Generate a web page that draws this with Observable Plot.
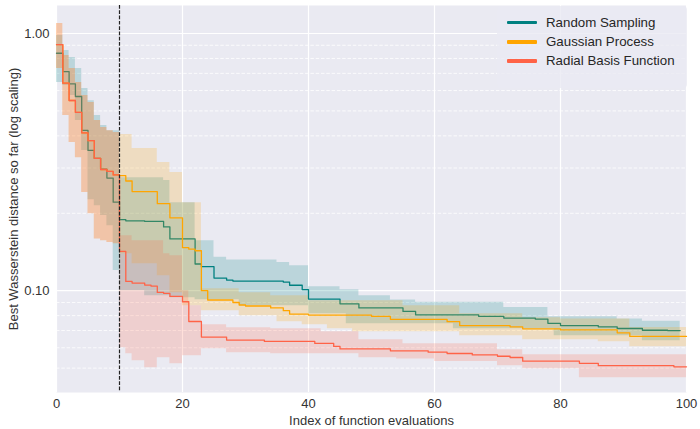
<!DOCTYPE html>
<html>
<head>
<meta charset="utf-8">
<script src="https://cdn.jsdelivr.net/npm/d3@7"></script>
<script src="https://cdn.jsdelivr.net/npm/@observablehq/plot@0.6"></script>
<style>
  html, body { margin: 0; padding: 0; background: #fff; }
  #wrap { position: relative; width: 700px; height: 429px; font-family: "Liberation Sans", Arial, sans-serif; }
  #legend { position: absolute; left: 497px; top: 6px; width: 190px; height: 82px; background: rgba(234,234,242,0.8); border-radius: 4px; }
  .lg-row { position: absolute; left: 0; height: 18px; width: 190px; }
  .lg-sw { position: absolute; left: 10px; top: 7px; width: 30px; height: 3.5px; border-radius: 1px; }
  .lg-tx { position: absolute; left: 49px; top: 0; line-height: 18px; font-size: 13.3px; color: #262626; white-space: nowrap; }
</style>
</head>
<body>
<div id="wrap"><div id="legend"></div></div>
<script>
// ---------- data (step breakpoints: [evaluation index, value]) ----------
const seriesNames = ["Random Sampling", "Gaussian Process", "Radial Basis Function"];
const seriesColors = ["#008080", "#FFA500", "#FF6347"];
const seriesLastIndex = [99, 100, 100];

const xTicks = [0, 20, 40, 60, 80, 100];
const yTicks = [0.1, 1];
const yMinorTicks = [0.05, 0.06, 0.07, 0.08, 0.09, 0.2, 0.3, 0.4, 0.5, 0.6, 0.7, 0.8, 0.9];
const initialDesignEnd = [10];

const rsMedian = [[0,0.838],[1,0.711],[2,0.637],[3,0.569],[4,0.42],[5,0.351],[6,0.327],[7,0.297],[8,0.274],[9,0.221],[10,0.189],[11,0.187],[14,0.186],[17,0.177],[18,0.159],[22,0.127],[23,0.124],[25,0.112],[27,0.110],[28,0.109],[36,0.108],[37,0.105],[39,0.101],[40,0.0928],[45,0.0889],[48,0.0857],[55,0.0831],[57,0.0806],[67,0.0795],[71,0.0783],[76,0.0776],[78,0.0747],[80,0.0732],[86,0.0724],[89,0.0713],[93,0.0702],[97,0.0700]];
const rsUpper = [[0,0.982],[1,0.859],[2,0.807],[3,0.731],[4,0.611],[5,0.548],[6,0.480],[7,0.439],[8,0.419],[10,0.275],[17,0.268],[18,0.220],[22,0.1565],[25,0.1348],[27,0.1317],[35,0.1288],[37,0.1251],[40,0.1036],[45,0.1009],[48,0.0956],[53,0.0920],[57,0.0901],[71,0.0861],[78,0.0792],[89,0.0776],[93,0.0760]];
const rsLower = [[0,0.645],[1,0.628],[2,0.574],[3,0.459],[4,0.351],[5,0.226],[6,0.214],[7,0.196],[8,0.179],[9,0.1197],[10,0.100],[14,0.0956],[18,0.0939],[22,0.0923],[29,0.0874],[40,0.0813],[46,0.0744],[63,0.0711],[79,0.0668],[93,0.0639]];

const gpMedian = [[0,0.906],[1,0.641],[2,0.549],[3,0.494],[4,0.411],[5,0.383],[6,0.327],[7,0.296],[8,0.291],[9,0.282],[10,0.280],[11,0.267],[12,0.243],[16,0.218],[18,0.192],[20,0.147],[21,0.145],[22,0.143],[23,0.100],[24,0.092],[28,0.090],[29,0.088],[30,0.0872],[34,0.0857],[36,0.0836],[37,0.0811],[40,0.0804],[50,0.0795],[53,0.0774],[62,0.0758],[64,0.0732],[72,0.0724],[74,0.0711],[80,0.0704],[89,0.0686],[91,0.0664]];
const gpUpper = [[0,1.094],[1,0.821],[2,0.731],[3,0.645],[4,0.574],[5,0.539],[6,0.459],[7,0.431],[8,0.419],[9,0.412],[10,0.405],[12,0.357],[16,0.315],[18,0.288],[20,0.220],[23,0.1018],[29,0.0982],[34,0.0956],[40,0.0914],[55,0.0874],[64,0.0813],[74,0.0785],[80,0.0776],[91,0.0720]];
const gpLower = [[0,0.731],[1,0.480],[2,0.377],[3,0.329],[4,0.241],[5,0.199],[6,0.159],[7,0.1565],[8,0.1538],[9,0.1524],[10,0.1393],[12,0.1274],[16,0.1144],[18,0.0982],[20,0.0874],[23,0.0836],[29,0.0799],[35,0.0757],[39,0.0737],[43,0.0711],[47,0.0692],[64,0.0668],[74,0.0645],[86,0.0633],[91,0.0605]];

const rbfMedian = [[0,0.906],[1,0.641],[2,0.549],[3,0.494],[4,0.411],[5,0.383],[6,0.327],[7,0.296],[8,0.291],[9,0.282],[10,0.1422],[11,0.1087],[12,0.1071],[14,0.1052],[15,0.1042],[16,0.0985],[17,0.0977],[18,0.0950],[20,0.0906],[21,0.0759],[23,0.0660],[27,0.0643],[33,0.0635],[41,0.0624],[44,0.0607],[45,0.0594],[53,0.0584],[59,0.0577],[62,0.0570],[66,0.0563],[70,0.0556],[72,0.0550],[74,0.0532],[83,0.0522],[86,0.0511],[98,0.0506]];
const rbfUpper = [[0,1.094],[1,0.821],[2,0.731],[3,0.645],[4,0.574],[5,0.539],[6,0.459],[7,0.431],[8,0.419],[9,0.412],[10,0.1637],[12,0.1565],[17,0.1393],[18,0.1368],[20,0.100],[21,0.0874],[23,0.0737],[27,0.0718],[34,0.0711],[42,0.0692],[48,0.0645],[55,0.0622],[70,0.0590],[74,0.0564]];
const rbfLower = [[0,0.731],[1,0.480],[2,0.377],[3,0.329],[4,0.241],[5,0.199],[6,0.159],[7,0.1565],[8,0.1538],[9,0.1524],[10,0.0600],[11,0.0569],[12,0.0534],[14,0.0502],[16,0.0549],[18,0.0520],[20,0.0559],[23,0.0595],[27,0.0574],[34,0.0569],[48,0.0549],[54,0.0542],[60,0.0531],[70,0.0511],[74,0.0497],[83,0.0459]];

// ---------- build tables from the step breakpoints ----------
function expand(pairs, n) {
  const out = []; let j = 0;
  for (let x = 0; x <= n; x++) {
    while (j + 1 < pairs.length && pairs[j + 1][0] <= x) j++;
    out.push(pairs[j][1]);
  }
  return out;
}
const raw = [[rsMedian, rsLower, rsUpper], [gpMedian, gpLower, gpUpper], [rbfMedian, rbfLower, rbfUpper]];
const tables = raw.map(([m, lo, hi], i) => {
  const n = seriesLastIndex[i];
  const M = expand(m, n), L = expand(lo, n), H = expand(hi, n);
  return M.map((v, x) => ({x, y: v, lo: L[x], hi: H[x], name: seriesNames[i]}));
});

const txt = "#333";
const seriesMarks = tables.flatMap((rows, i) => [
  Plot.areaY(rows, {x: "x", y1: "lo", y2: "hi", fill: seriesColors[i], fillOpacity: 0.2, curve: "step-after"}),
  Plot.line(rows, {x: "x", y: "y", stroke: seriesColors[i], strokeWidth: 1.3, curve: "step-after"})
]);

const chart = Plot.plot({
  width: 700,
  height: 429,
  marginLeft: 56,
  marginRight: 14,
  marginTop: 5,
  marginBottom: 37,
  style: {background: "transparent", fontFamily: "'Liberation Sans', Arial, sans-serif", fontSize: "13px", color: txt, overflow: "visible"},
  x: {domain: [0, 100]},
  y: {type: "log", domain: [0.0402, 1.285]},
  marks: [
    Plot.frame({fill: "#EAEAF2", stroke: null}),
    Plot.ruleY(yMinorTicks, {stroke: "white", strokeWidth: 0.8, strokeDasharray: "3.5,1.8"}),
    Plot.gridY(yTicks, {stroke: "white", strokeOpacity: 1, strokeWidth: 1.2}),
    Plot.gridX(xTicks, {stroke: "white", strokeOpacity: 1, strokeWidth: 1.2}),
    ...seriesMarks,
    Plot.ruleX(initialDesignEnd, {stroke: "#222", strokeWidth: 1.2, strokeDasharray: "3.7,1.6"}),
    Plot.axisX(xTicks, {tickSize: 0, tickPadding: 6, fontSize: 13, fill: txt,
      label: "Index of function evaluations", labelAnchor: "center", labelOffset: 32, labelArrow: "none"}),
    Plot.axisY(yTicks, {tickSize: 0, tickPadding: 7, fontSize: 13, fill: txt, tickFormat: d3.format(".2f"),
      label: "Best Wasserstein distance so far (log scaling)", labelAnchor: "center", labelOffset: 48, labelArrow: "none"})
  ]
});
document.getElementById("wrap").insertBefore(chart, document.getElementById("legend"));

// ---------- legend ----------
const legend = document.getElementById("legend");
const rowCenters = [16.7, 36, 55];
seriesNames.forEach((name, i) => {
  const row = document.createElement("div");
  row.className = "lg-row";
  row.style.top = (rowCenters[i] - 9) + "px";
  const sw = document.createElement("div");
  sw.className = "lg-sw";
  sw.style.background = seriesColors[i];
  const tx = document.createElement("div");
  tx.className = "lg-tx";
  tx.textContent = name;
  row.appendChild(sw); row.appendChild(tx);
  legend.appendChild(row);
});
</script>
</body>
</html>
